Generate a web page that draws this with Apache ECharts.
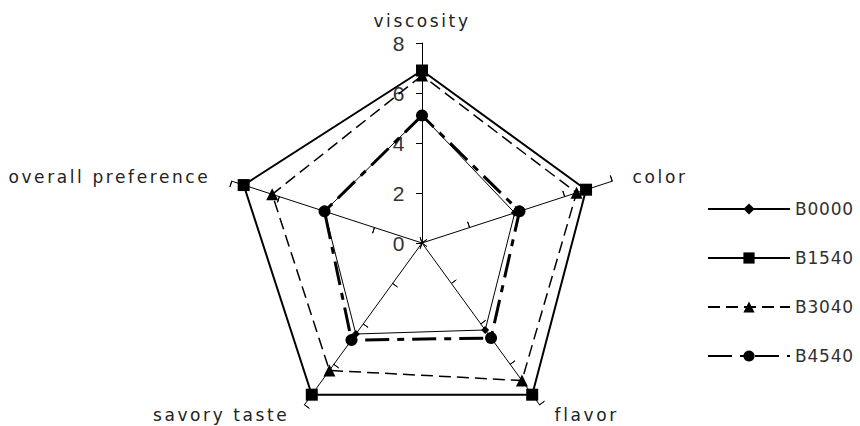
<!DOCTYPE html>
<html><head><meta charset="utf-8">
<script src="https://cdn.jsdelivr.net/npm/echarts@6/dist/echarts.min.js"></script>
<style>
html,body{margin:0;padding:0;background:#fff}
#c{width:860px;height:426px}
#c text{letter-spacing:2.6px}
#c text[fill="#303030"], #c text[fill="rgb(48,48,48)"]{letter-spacing:0.8px}
</style>
</head><body><div id="c"></div>
<script>
// axes in clockwise order starting at top
const categories = ['viscosity', 'color', 'flavor', 'savory taste', 'overall preference'];
const seriesNames = ['B0000', 'B1540', 'B3040', 'B4540'];
const B0000 = [5.1, 3.9, 4.3, 4.5, 4.1];
const B1540 = [6.9, 6.9, 7.5, 7.5, 7.5];
const B3040 = [6.7, 6.5, 6.8, 6.3, 6.3];
const B4540 = [5.1, 4.1, 4.7, 4.8, 4.1];
const tickLabels = [0, 2, 4, 6, 8];
const axisMax = 8;

const values = [B0000, B1540, B3040, B4540];
const symbols = ['diamond', 'rect', 'triangle', 'circle'];
const symbolSizes = [8, 12, 12, 12];
const lineStyles = [
  {width: 1, type: 'solid'},
  {width: 2, type: 'solid'},
  {width: 1.5, type: [12, 6]},
  {width: 3, type: [24, 8, 7, 8]}
];
// per-label extra spacing away from the axis end
const namePads = {
  'viscosity': [0, 0, 2, 0],
  'color': [0, 0, 0, 9],
  'flavor': [0, 0, 0, 8],
  'savory taste': [0, 8, 0, 0],
  'overall preference': [0, 10, 0, 0]
};
// ECharts radar runs counter-clockwise; reorder to get clockwise layout
const order = [0, 4, 3, 2, 1];
const reorder = arr => order.map(i => arr[i]);

const chart = echarts.init(document.getElementById('c'), null, {renderer: 'svg'});
const series = [];
seriesNames.forEach((n, i) => {
  series.push({
    type: 'line', name: n, data: [], xAxisIndex: 0, yAxisIndex: 0,
    symbol: symbols[i], symbolSize: symbolSizes[i],
    itemStyle: {color: '#000'}, lineStyle: Object.assign({color: '#000'}, lineStyles[i])
  });
});
series.push({
  type: 'radar', radarIndex: 0,
  data: seriesNames.map((n, i) => ({
    name: n, value: reorder(values[i]),
    symbol: symbols[i], symbolSize: symbolSizes[i],
    itemStyle: {color: '#000'},
    lineStyle: Object.assign({color: '#000'}, lineStyles[i])
  })),
  z: 3
});

const rich = {};
categories.forEach((c, i) => { rich['n' + i] = {padding: namePads[c], fontSize: 17, fontFamily: 'DejaVu Sans', color: '#222'}; });

const radarBase = {
  center: [422, 243], radius: 200, startAngle: 90, shape: 'polygon', splitNumber: 4,
  indicator: reorder(categories).map(c => ({name: c, min: 0, max: axisMax})),
  splitLine: {show: false}, splitArea: {show: false}
};

chart.setOption({
  animation: false,
  backgroundColor: '#fff',
  grid: {left: 422, top: 43, width: 1, height: 200, show: false},
  xAxis: {type: 'value', show: false},
  yAxis: {
    type: 'value', min: tickLabels[0], max: tickLabels[tickLabels.length - 1], interval: 2,
    axisLine: {show: false}, splitLine: {show: false},
    axisTick: {show: false},
    axisLabel: {margin: 15, fontSize: 21, color: '#333', fontFamily: 'Liberation Sans'}
  },
  legend: {
    orient: 'vertical', left: 702, top: 195.5, itemWidth: 82, itemHeight: 14, itemGap: 32,
    data: seriesNames,
    textStyle: {fontSize: 17, color: '#303030', fontFamily: 'DejaVu Sans'}
  },
  radar: [
    Object.assign({}, radarBase, {
      axisName: {
        color: '#222', fontSize: 17, fontFamily: 'DejaVu Sans',
        formatter: name => '{n' + categories.indexOf(name) + '|' + name + '}',
        rich: rich
      },
      nameGap: 12,
      axisLine: {lineStyle: {color: '#000', width: 1}},
      axisTick: {show: true, length: 6, lineStyle: {color: '#000'}}
    }),
    Object.assign({}, radarBase, {
      axisName: {show: false},
      axisLine: {show: true, lineStyle: {color: 'rgba(0,0,0,0)', width: 1}},
      axisTick: {show: true, inside: true, length: 6, lineStyle: {color: '#000'}}
    })
  ],
  series: series
});
</script></body></html>
